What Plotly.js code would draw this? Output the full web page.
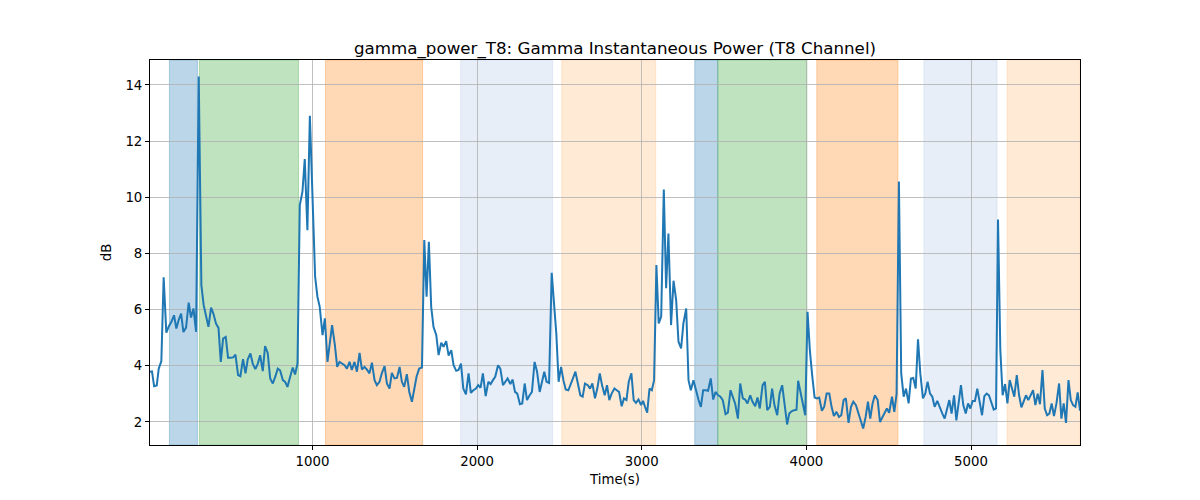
<!DOCTYPE html>
<html>
<head>
<meta charset="utf-8">
<script src="https://cdn.plot.ly/plotly-3.0.1.min.js"></script>
<style>html,body{margin:0;padding:0;background:#fff;}#chart{width:1200px;height:500px;}</style>
</head>
<body>
<div id="chart"></div>
<script>
const time = [13,25,38,54,66,82,96,112,127,143,159,173,187,202,216,232,248,262,277,293,309,325,339,354,368,384,398,414,429,443,457,473,487,501,518,532,548,562,578,593,607,623,637,653,668,682,698,712,728,743,759,775,789,803,820,834,848,864,880,894,909,923,939,953,969,984,1000,1016,1030,1044,1061,1075,1091,1105,1119,1136,1150,
1164,1178,1195,1209,1225,1239,1255,1270,1286,1300,1316,1330,1346,1361,1377,1391,1407,1421,1438,1452,1468,1482,1498,1513,1529,1543,1557,1573,1588,1604,1618,1632,1648,1665,1679,1693,1707,1721,1735,1752,1766,1782,1796,1812,1827,1843,1857,1873,1887,1902,1916,1932,1948,1962,1977,1993,2007,2021,2035,2052,2068,
2082,2096,2110,2127,2141,2157,2171,2185,2202,2216,2230,2244,2260,2274,2289,2303,2319,2333,2349,2364,2380,2394,2408,2422,2437,2453,2467,2481,2495,2510,2524,2538,2554,2568,2582,2597,2613,2627,2641,2655,2672,2686,2700,2716,2730,2745,2759,2775,2789,2803,2817,2834,2848,2862,2878,2892,2907,2921,2937,2951,2965,2980,
2996,3008,3020,3033,3047,3061,3075,3089,3103,3118,3134,3148,3162,3178,3193,3209,3223,3239,3253,3270,3284,3298,3314,3328,3345,3359,3373,3389,3403,3419,3434,3448,3464,3478,3492,3509,3523,3539,3553,3567,3584,3598,3614,3628,3642,3659,3673,3689,3703,3717,3734,3748,3762,3778,3792,3806,3823,3837,3853,3867,3883,3896,
3910,3926,3940,3950,3965,3979,3993,4007,4021,4035,4050,4064,4078,4094,4108,4123,4139,4153,4167,4183,4198,4212,4226,4240,4256,4271,4285,4301,4315,4329,4345,4360,4374,4388,4402,4416,4433,4447,4461,4475,4489,4503,4520,4534,4548,4562,4576,4591,4605,4621,4635,4649,4664,4678,4692,4708,4722,4736,4751,4765,4779,4795,4809,
4826,4840,4854,4868,4882,4897,4911,4925,4939,4953,4968,4982,4996,5010,5024,5038,5053,5067,5081,5095,5109,5124,5138,5152,5164,5178,5192,5207,5221,5235,5249,5263,5278,5292,5306,5320,5334,5348,5363,5377,5391,5405,5419,5434,5448,5462,5476,5490,5504,5519,5535,5549,5563,5577,5592,5606,5620,5634,5648,5662];

const power = [3.79,3.8,3.27,3.3,3.9,4.17,7.15,5.18,5.4,5.57,5.8,5.33,5.63,5.86,5.2,5.36,6.25,5.72,6.04,5.21,14.3,6.87,6.16,5.74,5.39,6.07,5.86,5.5,5.35,4.14,4.97,5.03,4.29,4.29,4.3,4.4,3.67,3.63,4.24,3.73,4.23,4.44,4.08,3.88,4.08,4.38,3.81,4.7,4.46,3.55,3.37,3.63,3.9,3.84,3.49,3.43,3.25,3.6,3.94,3.69,4.08,9.72,10.2,11.36,8.83,12.9,10.26,7.17,6.46,6.1,5.09,5.69,4.14,4.74,5.45,4.74,3.96,
4.14,4.08,4.02,3.90,4.14,3.85,4.14,3.79,4.46,3.87,3.96,3.87,3.73,4.11,3.49,3.31,3.43,3.73,3.99,3.37,3.19,3.75,3.55,3.57,3.96,3.43,3.25,3.70,3.07,2.72,3.19,3.61,3.90,3.94,8.48,6.46,8.42,6.10,5.39,5.09,4.38,4.82,4.68,4.88,4.36,4.56,4.02,3.82,3.85,4.08,3.19,2.98,3.73,3.04,3.13,3.19,3.31,3.22,3.73,2.92,3.43,
3.35,3.49,3.61,4.02,3.90,3.31,3.43,3.55,3.35,3.51,3.07,3.01,2.63,2.66,3.37,2.78,2.95,3.07,4.14,3.79,3.07,3.49,3.79,3.43,3.39,7.31,6.34,5.15,3.43,3.96,3.49,3.16,3.13,3.31,3.55,3.79,3.37,2.95,2.90,3.37,3.31,3.19,3.37,2.84,3.19,3.73,3.31,2.95,3.31,2.78,3.01,3.19,3.13,3.07,2.56,2.84,2.78,3.43,3.73,2.78,2.68,2.80,
2.60,2.75,2.54,2.33,3.19,3.13,3.49,7.59,5.51,5.75,10.28,6.76,8.71,5.45,7.03,6.34,4.86,4.62,5.51,6.04,3.49,3.13,3.49,3.13,2.78,2.54,3.13,3.13,3.11,3.55,2.80,3.07,2.95,2.90,2.78,2.28,2.33,3.13,2.90,2.66,2.12,3.37,2.84,2.80,2.66,2.95,2.72,2.56,2.87,2.48,3.31,3.43,2.42,2.54,3.19,2.60,2.24,3.01,3.31,2.54,1.91,2.30,
2.38,2.42,2.44,3.47,3.01,2.66,2.24,5.92,4.56,3.67,2.87,2.84,2.87,2.40,2.54,3.01,3.01,2.54,2.21,2.36,2.18,2.24,2.78,2.84,1.97,2.54,2.72,2.60,2.36,2.06,1.77,2.18,2.72,2.12,2.66,2.95,2.78,2.00,2.18,2.36,2.48,2.33,2.90,2.36,3.01,10.56,3.73,2.90,3.19,2.66,3.55,3.57,3.19,4.94,3.73,2.84,3.01,3.43,3.01,2.90,2.54,2.75,2.52,
2.30,2.12,2.42,2.78,2.30,2.95,2.06,2.60,3.31,2.60,2.30,2.66,2.48,2.75,2.75,3.19,2.66,2.24,2.92,3.01,2.95,2.66,2.44,2.48,9.21,4.56,2.95,3.35,2.66,3.49,3.19,2.90,3.67,2.95,2.52,2.75,2.95,2.78,2.95,3.13,2.60,3.01,2.63,3.85,2.48,2.24,2.30,2.66,2.21,2.66,3.37,2.12,2.66,1.97,3.49,2.78,2.60,2.54,3.05,2.40];

const spanStart = [131, 313, 1079, 1900, 2514, 3322, 3462, 4063, 4714, 5219];
const spanEnd   = [301, 915, 1669, 2459, 3085, 3462, 4003, 4556, 5158, 5663];
const spanColor = ['31,119,180','44,160,44','255,127,14','174,199,232','255,187,120',
                   '31,119,180','44,160,44','255,127,14','174,199,232','255,187,120'];

const yTicks = [2,4,6,8,10,12,14];
const xTicks = [1000,2000,3000,4000,5000];

const shapes = spanStart.map((s,i)=>({
  type:'rect', xref:'x', yref:'paper', x0:s, x1:spanEnd[i], y0:0, y1:1,
  fillcolor:'rgba('+spanColor[i]+',0.3)', line:{width:1,color:'rgba('+spanColor[i]+',0.3)'}, layer:'below'
}));

const trace = {x:time, y:power, type:'scatter', mode:'lines',
  line:{color:'#1f77b4', width:2}, hoverinfo:'skip'};

const font = {family:'DejaVu Sans, sans-serif', size:13.3, color:'#000'};
const layout = {
  width:1200, height:500,
  margin:{l:150, r:120, t:60, b:55},
  paper_bgcolor:'#fff', plot_bgcolor:'#fff',
  showlegend:false,
  font:font,
  title:{text:'gamma_power_T8: Gamma Instantaneous Power (T8 Channel)', font:{family:'DejaVu Sans, sans-serif', size:16.7, color:'#000'},
    x:0.5, xref:'paper', xanchor:'center', y:1, yref:'paper', yanchor:'bottom', pad:{b:6}},
  xaxis:{range:[time[0], time[time.length-1]], tickvals:xTicks, ticktext:xTicks.map(String),
    showgrid:true, gridcolor:'#b0b0b0', gridwidth:0.8, zeroline:false,
    showline:true, linecolor:'#000', linewidth:1, mirror:true,
    ticks:'outside', ticklen:4, tickcolor:'#000', tickfont:font,
    title:{text:'Time(s)', font:font, standoff:6}},
  yaxis:{range:[1.18, 14.89], tickvals:yTicks, ticktext:yTicks.map(String),
    showgrid:true, gridcolor:'#b0b0b0', gridwidth:0.8, zeroline:false,
    showline:true, linecolor:'#000', linewidth:1, mirror:true,
    ticks:'outside', ticklen:4, tickcolor:'#000', tickfont:font,
    title:{text:'dB', font:font, standoff:10}},
  shapes:shapes
};
Plotly.newPlot('chart',[trace],layout,{staticPlot:true, displayModeBar:false});
</script>
</body>
</html>
